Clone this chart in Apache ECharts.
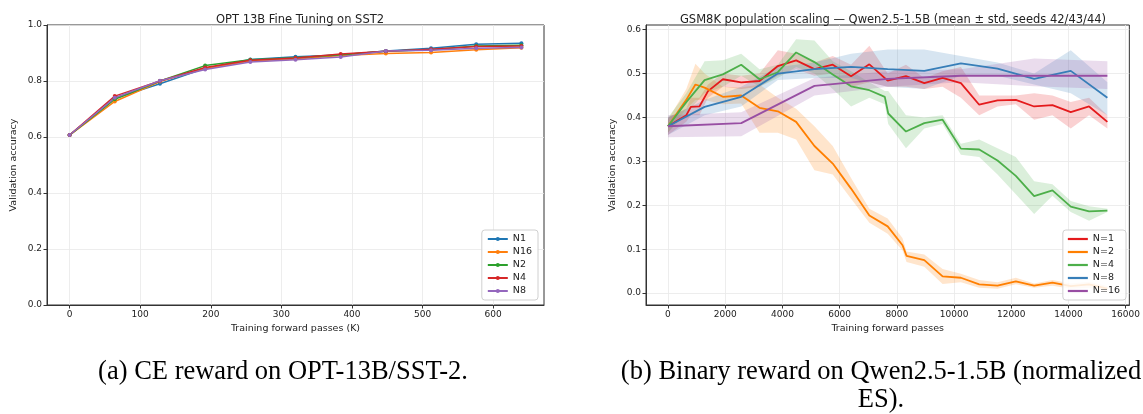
<!DOCTYPE html>
<html lang="en">
<head>
<meta charset="UTF-8">
<title>Population scaling</title>
<style>
  html, body { margin: 0; padding: 0; background: #fff; }
  #main { width: 1143px; height: 414px; }
</style>
</head>
<body>
<div id="main"></div>
<script src="https://cdn.jsdelivr.net/npm/echarts@6/dist/echarts.min.js"></script>
<script>
// ---- (a) OPT 13B on SST2 ----
const leftX = [0, 64, 128, 192, 256, 320, 384, 448, 512, 576, 640];
const leftN1  = [0.607, 0.738, 0.790, 0.845, 0.877, 0.887, 0.893, 0.907, 0.917, 0.931, 0.935];
const leftN16 = [0.607, 0.727, 0.798, 0.845, 0.871, 0.879, 0.891, 0.898, 0.902, 0.912, 0.919];
const leftN2  = [0.607, 0.735, 0.800, 0.855, 0.876, 0.883, 0.894, 0.906, 0.912, 0.925, 0.928];
const leftN4  = [0.607, 0.746, 0.800, 0.848, 0.874, 0.882, 0.896, 0.906, 0.913, 0.923, 0.925];
const leftN8  = [0.607, 0.740, 0.801, 0.841, 0.868, 0.876, 0.886, 0.907, 0.910, 0.917, 0.920];
const leftXTicks = [0, 100, 200, 300, 400, 500, 600];

// ---- (b) GSM8K population scaling (mean, mean-std, mean+std) ----
const n1X    = [0, 640, 800, 1100, 1400, 1920, 2560, 3200, 3840, 4480, 5120, 5760, 6400, 7040, 7680, 8320, 8960, 9600, 10240, 10880, 11520, 12160, 12800, 13440, 14080, 14720, 15360];
const n1Mean = [0.380, 0.405, 0.424, 0.425, 0.460, 0.487, 0.480, 0.483, 0.517, 0.530, 0.510, 0.520, 0.494, 0.521, 0.484, 0.494, 0.478, 0.490, 0.478, 0.429, 0.439, 0.440, 0.425, 0.428, 0.412, 0.425, 0.390];
const n1Lo   = [0.360, 0.390, 0.405, 0.405, 0.445, 0.470, 0.465, 0.470, 0.495, 0.510, 0.495, 0.500, 0.470, 0.480, 0.470, 0.470, 0.465, 0.470, 0.445, 0.405, 0.425, 0.430, 0.395, 0.405, 0.375, 0.405, 0.375];
const n1Hi   = [0.400, 0.420, 0.445, 0.445, 0.475, 0.500, 0.495, 0.500, 0.553, 0.545, 0.525, 0.540, 0.520, 0.563, 0.500, 0.520, 0.490, 0.505, 0.515, 0.450, 0.450, 0.450, 0.455, 0.450, 0.435, 0.445, 0.405];

const n2X    = [0, 640, 960, 1280, 1920, 2560, 3200, 3840, 4480, 5120, 5760, 6400, 7040, 7680, 8200, 8340, 8960, 9600, 10240, 10880, 11520, 12160, 12800, 13440, 14080, 14720, 15360];
const n2Mean = [0.380, 0.440, 0.475, 0.468, 0.447, 0.450, 0.422, 0.414, 0.390, 0.335, 0.295, 0.238, 0.177, 0.152, 0.109, 0.085, 0.075, 0.038, 0.035, 0.020, 0.017, 0.027, 0.017, 0.024, 0.016, 0.020, 0.010];
const n2Lo   = [0.365, 0.420, 0.440, 0.440, 0.430, 0.432, 0.365, 0.365, 0.350, 0.280, 0.270, 0.215, 0.160, 0.135, 0.097, 0.071, 0.060, 0.021, 0.025, 0.012, 0.010, 0.020, 0.012, 0.017, 0.010, 0.012, 0.004];
const n2Hi   = [0.395, 0.465, 0.522, 0.500, 0.470, 0.468, 0.475, 0.445, 0.420, 0.380, 0.335, 0.262, 0.192, 0.170, 0.125, 0.095, 0.088, 0.055, 0.044, 0.030, 0.025, 0.035, 0.022, 0.030, 0.022, 0.026, 0.016];

const n4X    = [0, 640, 1280, 1920, 2560, 3200, 3840, 4480, 5120, 5760, 6400, 7040, 7580, 7700, 8320, 8960, 9600, 10240, 10880, 11520, 12160, 12800, 13440, 14080, 14720, 15360];
const n4Mean = [0.380, 0.435, 0.485, 0.498, 0.520, 0.487, 0.503, 0.548, 0.526, 0.498, 0.471, 0.462, 0.447, 0.409, 0.368, 0.387, 0.395, 0.329, 0.327, 0.302, 0.267, 0.221, 0.234, 0.197, 0.186, 0.188];
const n4Lo   = [0.365, 0.410, 0.455, 0.470, 0.495, 0.470, 0.490, 0.515, 0.500, 0.465, 0.425, 0.445, 0.430, 0.385, 0.330, 0.375, 0.385, 0.315, 0.310, 0.270, 0.225, 0.180, 0.222, 0.185, 0.165, 0.185];
const n4Hi   = [0.400, 0.455, 0.528, 0.530, 0.545, 0.510, 0.520, 0.578, 0.575, 0.528, 0.505, 0.480, 0.460, 0.460, 0.405, 0.400, 0.405, 0.340, 0.350, 0.330, 0.310, 0.255, 0.248, 0.210, 0.198, 0.192];

const n8X    = [0, 1280, 2560, 3840, 5120, 6400, 7680, 8960, 10240, 11520, 12800, 14080, 15360];
const n8Mean = [0.380, 0.424, 0.447, 0.500, 0.510, 0.515, 0.510, 0.506, 0.523, 0.511, 0.488, 0.506, 0.445];
const n8Lo   = [0.360, 0.405, 0.425, 0.485, 0.490, 0.490, 0.470, 0.465, 0.495, 0.495, 0.475, 0.455, 0.405];
const n8Hi   = [0.400, 0.440, 0.470, 0.515, 0.525, 0.545, 0.555, 0.555, 0.540, 0.525, 0.500, 0.553, 0.480];

const n16X    = [0, 2560, 5120, 7680, 10240, 12800, 15360];
const n16Mean = [0.380, 0.387, 0.472, 0.488, 0.495, 0.495, 0.495];
const n16Lo   = [0.355, 0.357, 0.450, 0.470, 0.480, 0.471, 0.465];
const n16Hi   = [0.405, 0.412, 0.490, 0.505, 0.510, 0.534, 0.528];

const rightXTicks = [0, 2000, 4000, 6000, 8000, 10000, 12000, 14000, 16000];
const rightYTicks = [0, 0.1, 0.2, 0.3, 0.4, 0.5, 0.6];
const leftYTicks = [0, 0.2, 0.4, 0.6, 0.8, 1.0];

const FONT = 'DejaVu Sans';
const tab10 = ['#1f77b4', '#ff7f0e', '#2ca02c', '#d62728', '#9467bd'];
const set1 = { n1: '#e41a1c', n2: '#ff7f00', n4: '#4daf4a', n8: '#377eb8', n16: '#984ea3' };

function zip(xs, ys) { return xs.map((x, i) => [x, ys[i]]); }

function leftLine(name, ys, color) {
  return {
    type: 'line', name, xAxisIndex: 0, yAxisIndex: 0,
    data: zip(leftX, ys), color,
    symbol: 'circle', symbolSize: 4, showSymbol: true,
    lineStyle: { width: 1.5, color }, itemStyle: { color },
    z: 3
  };
}

function rightLine(name, xs, ys, color) {
  return {
    type: 'line', name, xAxisIndex: 1, yAxisIndex: 1,
    data: zip(xs, ys), color,
    symbol: 'none', showSymbol: false,
    lineStyle: { width: 1.8, color }, itemStyle: { color },
    z: 3
  };
}

function band(name, xs, lo, hi, color) {
  const data = xs.map((x, i) => [x, lo[i], hi[i]]);
  return {
    type: 'custom', name: name + ' std', xAxisIndex: 1, yAxisIndex: 1,
    silent: true, clip: true, z: 1,
    data, encode: { x: 0, y: [1, 2] },
    renderItem(params, api) {
      if (params.dataIndex !== 0) return;
      const top = data.map(d => api.coord([d[0], d[2]]));
      const bot = data.map(d => api.coord([d[0], d[1]])).reverse();
      return {
        type: 'polygon',
        shape: { points: top.concat(bot) },
        style: { fill: color, opacity: 0.2 }
      };
    }
  };
}

function xAxis(gridIndex, min, max, ticks, name) {
  return {
    type: 'value', gridIndex, min, max, name,
    nameLocation: 'middle', nameGap: 19,
    nameTextStyle: { fontFamily: FONT, fontSize: 9.5, color: '#222' },
    axisLine: { show: true, onZero: false, lineStyle: { color: '#333', width: 1 } },
    axisTick: { show: true, length: 3.5, customValues: ticks, lineStyle: { color: '#333' } },
    axisLabel: { customValues: ticks, fontFamily: FONT, fontSize: 9, color: '#222', margin: 5, formatter: v => String(v) },
    splitLine: { show: true, lineStyle: { color: '#e8e8e8', width: 0.8 } }
  };
}

function yAxis(gridIndex, min, max, ticks, name) {
  return {
    type: 'value', gridIndex, min, max, name,
    nameLocation: 'middle', nameGap: 28,
    nameTextStyle: { fontFamily: FONT, fontSize: 9.5, color: '#222' },
    axisLine: { show: true, onZero: false, lineStyle: { color: '#333', width: 1 } },
    axisTick: { show: true, length: 3.5, customValues: ticks, lineStyle: { color: '#333' } },
    axisLabel: { customValues: ticks, fontFamily: FONT, fontSize: 9, color: '#222', margin: 5, formatter: v => v.toFixed(1) },
    splitLine: { show: true, lineStyle: { color: '#e8e8e8', width: 0.8 } }
  };
}

const legendBase = {
  orient: 'vertical',
  backgroundColor: 'rgba(255,255,255,0.85)',
  borderColor: '#d0d0d0', borderWidth: 1, borderRadius: 3,
  padding: [4, 6, 4, 5],
  itemWidth: 20, itemGap: 3,
  textStyle: { fontFamily: FONT, fontSize: 9.5, color: '#222' }
};

const captionStyle = { fontFamily: 'Liberation Serif', fontSize: 26.5, fontWeight: 'normal', color: '#000', lineHeight: 28 };

const chart = echarts.init(document.getElementById('main'), null, { renderer: 'canvas' });
chart.setOption({
  animation: false,
  backgroundColor: '#fff',
  title: [
    { text: 'OPT 13B Fine Tuning on SST2', left: 295, top: 9, textAlign: 'center',
      textStyle: { fontFamily: FONT, fontSize: 11.5, fontWeight: 'normal', color: '#222' } },
    { text: 'GSM8K population scaling \u2014 Qwen2.5-1.5B (mean \u00b1 std, seeds 42/43/44)', left: 888, top: 9, textAlign: 'center',
      textStyle: { fontFamily: FONT, fontSize: 11.5, fontWeight: 'normal', color: '#222' } },
    { text: '(a) CE reward on OPT-13B/SST-2.', left: 278, top: 353, textAlign: 'center', textStyle: captionStyle },
    { text: '(b) Binary reward on Qwen2.5-1.5B (normalized\nES).', left: 876, top: 353, textAlign: 'center', textStyle: captionStyle }
  ],
  grid: [
    { left: 47, top: 25, width: 497, height: 280, show: true, borderColor: '#333', borderWidth: 1, backgroundColor: 'transparent' },
    { left: 646, top: 25, width: 485, height: 280, show: true, borderColor: '#333', borderWidth: 1, backgroundColor: 'transparent' }
  ],
  xAxis: [
    xAxis(0, -32, 672, leftXTicks, 'Training forward passes (K)'),
    xAxis(1, -768, 16128, rightXTicks, 'Training forward passes')
  ],
  yAxis: [
    yAxis(0, 0, 1, leftYTicks, 'Validation accuracy'),
    yAxis(1, -0.027, 0.6105, rightYTicks, 'Validation accuracy')
  ],
  legend: [
    Object.assign({}, legendBase, { data: ['N1', 'N16', 'N2', 'N4', 'N8'], right: 605, bottom: 114, itemHeight: 5 }),
    Object.assign({}, legendBase, { data: ['N=1', 'N=2', 'N=4', 'N=8', 'N=16'], right: 17, bottom: 114, icon: 'rect', itemHeight: 2.2 })
  ],
  series: [
    leftLine('N1', leftN1, tab10[0]),
    leftLine('N16', leftN16, tab10[1]),
    leftLine('N2', leftN2, tab10[2]),
    leftLine('N4', leftN4, tab10[3]),
    leftLine('N8', leftN8, tab10[4]),

    band('N=1', n1X, n1Lo, n1Hi, set1.n1),
    band('N=2', n2X, n2Lo, n2Hi, set1.n2),
    band('N=4', n4X, n4Lo, n4Hi, set1.n4),
    band('N=8', n8X, n8Lo, n8Hi, set1.n8),
    band('N=16', n16X, n16Lo, n16Hi, set1.n16),

    rightLine('N=1', n1X, n1Mean, set1.n1),
    rightLine('N=2', n2X, n2Mean, set1.n2),
    rightLine('N=4', n4X, n4Mean, set1.n4),
    rightLine('N=8', n8X, n8Mean, set1.n8),
    rightLine('N=16', n16X, n16Mean, set1.n16)
  ]
});
</script>
</body>
</html>
